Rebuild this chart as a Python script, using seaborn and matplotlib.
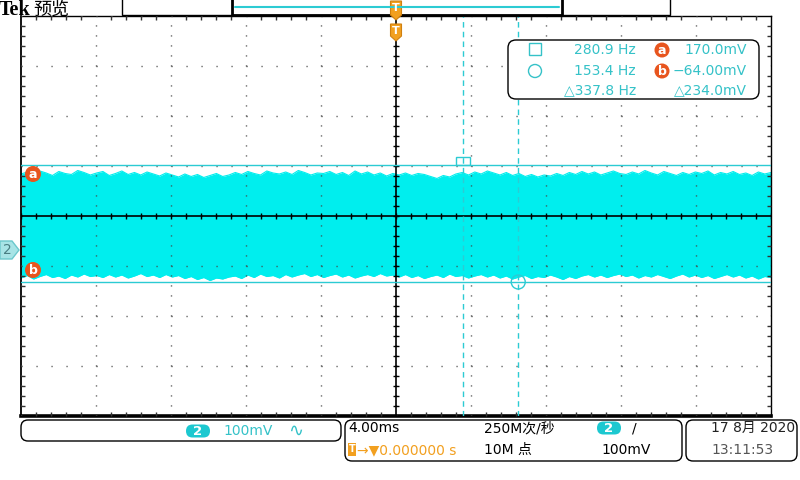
import numpy as np
import pandas as pd
import seaborn as sns
import matplotlib.pyplot as plt
from matplotlib.patches import FancyBboxPatch, Rectangle, Polygon, Circle

sns.set_style("white")
plt.rcParams['font.family'] = ['DejaVu Sans', 'Noto Sans CJK SC']

# envelope of the channel 2 trace (mV), -20..+20 ms
upper_mv = [152, 156, 150, 158, 154, 149, 157, 153, 151, 159, 155, 150,
            154, 157, 149, 153, 158, 151, 155, 150, 156, 152, 148, 154,
            150, 146, 152, 147, 151, 145, 149, 153, 147, 150, 155, 151,
            157, 153, 150, 158, 154, 152, 156, 151, 159, 155, 150, 154,
            153, 157, 151, 155, 149, 158, 152, 156, 150, 154, 148, 153,
            150, 154, 149, 153, 151, 147, 143, 149, 146, 152, 155, 150,
            156, 152, 158, 154, 150, 155, 149, 153, 147, 151, 146, 150,
            148, 153, 149, 155, 151, 157, 152, 156, 150, 154, 158, 153,
            151, 156, 152, 159, 154, 150, 157, 153, 149, 155, 151, 156,
            153, 158, 150, 155, 152, 157, 151, 154, 149, 156, 152, 155]
lower_mv = [-56, -51, -58, -53, -49, -55, -52, -57, -50, -54, -48, -53,
            -51, -55, -49, -54, -50, -56, -52, -47, -53, -50, -55, -49,
            -54, -51, -57, -53, -59, -55, -61, -56, -58, -54, -52, -57,
            -50, -55, -48, -53, -51, -56, -49, -54, -50, -47, -53, -49,
            -55, -51, -48, -54, -50, -56, -52, -49, -53, -47, -52, -50,
            -54, -49, -55, -51, -57, -53, -50, -55, -48, -53, -51, -56,
            -52, -49, -54, -50, -56, -52, -58, -54, -51, -57, -53, -55,
            -50, -54, -59, -53, -57, -52, -49, -54, -50, -55, -51, -48,
            -53, -50, -56, -51, -54, -49, -53, -57, -52, -48, -54, -50,
            -55, -51, -57, -53, -49, -54, -50, -56, -52, -58, -53, -55]

cursor_hz = [280.9, 153.4]
cursor_mv = [170.0, -64.00]
delta_hz = 337.8
delta_mv = 234.0

time_div_ms = 4.0
volt_div_mv = 100.0
center_mv = 68.0

CYAN = '#00EEEE'
CUR = '#2CCBD3'
TXT = '#35C2C8'
ORANGE = '#E8551E'
TRIG = '#F2A020'

cursor_ms = [1000.0 / f for f in cursor_hz]
df = pd.DataFrame({'t': np.linspace(-5 * time_div_ms, 5 * time_div_ms, len(upper_mv)),
                   'upper': upper_mv, 'lower': lower_mv})

fig = plt.figure(figsize=(8, 4.8), dpi=100)
ax = fig.add_axes([21 / 800, 64 / 480, 750 / 800, 400 / 480])

ax.fill_between(df['t'], df['lower'], df['upper'], color=CYAN, lw=0, zorder=1)
sns.lineplot(data=df, x='t', y='upper', color=CYAN, lw=0.8, ax=ax, zorder=1)
sns.lineplot(data=df, x='t', y='lower', color=CYAN, lw=0.8, ax=ax, zorder=1)

ax.set_xlim(-5 * time_div_ms, 5 * time_div_ms)
ax.set_ylim(center_mv - 4 * volt_div_mv, center_mv + 4 * volt_div_mv)
ax.set_xticks(np.arange(-5, 6) * time_div_ms)
ax.set_yticks(center_mv + np.arange(-4, 5) * volt_div_mv)
ax.set_xticks(np.arange(-25, 26) * time_div_ms / 5, minor=True)
ax.set_yticks(center_mv + np.arange(-20, 21) * volt_div_mv / 5, minor=True)
ax.set_xticklabels([])
ax.set_yticklabels([])
ax.set_xlabel('')
ax.set_ylabel('')
ax.tick_params(which='major', length=0)
ax.tick_params(which='minor', direction='in', length=3, width=1, color='#333333',
               top=True, right=True, bottom=True, left=True)
ax.set_axisbelow(False)
ax.grid(axis='x', which='major', color='#444444', lw=1, linestyle=(0, (0.8, 6.4)))
ax.grid(axis='y', which='major', color='#444444', lw=1, linestyle=(0, (0.8, 10.0)))
for side, w in [('left', 1.3), ('bottom', 2.6), ('top', 1.0), ('right', 1.0)]:
    ax.spines[side].set_color('black')
    ax.spines[side].set_linewidth(w)

# centre cross with its small ticks
ax.axvline(0, color='black', lw=1.2, zorder=3)
ax.axhline(center_mv, color='black', lw=1.2, zorder=3)
ax.plot(np.arange(-25, 26) * time_div_ms / 5, [center_mv] * 51, ls='none', marker='|',
        ms=5, mew=1, color='black', zorder=3)
ax.plot([0] * 41, center_mv + np.arange(-20, 21) * volt_div_mv / 5, ls='none', marker='_',
        ms=5, mew=1, color='black', zorder=3)

# cursors
for v in cursor_mv:
    ax.axhline(v, color=CUR, lw=1, zorder=4)
for t in cursor_ms:
    ax.axvline(t, color=CUR, lw=1, ls=(0, (4, 3)), zorder=4)

# overlay in pixel coordinates for the screen furniture
ov = fig.add_axes([0, 0, 1, 1], zorder=10)
ov.set_xlim(0, 800)
ov.set_ylim(480, 0)
ov.axis('off')
ov.patch.set_alpha(0)


def to_px(t, v):
    x, y = ax.transData.transform((t, v))
    return x, 480 - y


# cursor ornaments
sx, sy = to_px(cursor_ms[0], cursor_mv[0])
ov.add_patch(Rectangle((sx - 7, sy - 8), 14, 8, fill=False, ec=CUR, lw=1))
cx, cy = to_px(cursor_ms[1], cursor_mv[1])
ov.add_patch(Circle((cx, cy), 7, fill=False, ec=CUR, lw=1))


def badge(x, y, letter, r=8, size=9):
    ov.add_patch(Circle((x, y), r, color=ORANGE, lw=0))
    ov.text(x, y + 0.5, letter, color='white', fontsize=size, fontweight='bold',
            ha='center', va='center')


_, ay = to_px(0, cursor_mv[0])
_, by = to_px(0, cursor_mv[1])
badge(33, ay + 9, 'a')
badge(33, by - 12, 'b')

# channel 2 ground marker
_, gy = to_px(0, 0)
ov.add_patch(Polygon([(0, gy - 9), (12, gy - 9), (19, gy), (12, gy + 9), (0, gy + 9)],
                     closed=True, fc='#A8E4E6', ec='#6CC8CC', lw=1))
ov.text(7, gy + 0.5, '2', color='#4A7E82', fontsize=10, ha='center', va='center')

# title
ov.text(-1, 10, 'Tek', family='Liberation Serif', fontweight='bold', fontsize=14.5,
        ha='left', va='center', color='black')
ov.text(33, 10, '预览', family=['Noto Sans CJK SC'], fontsize=13,
        ha='left', va='center', color='black')

# record view bar
ov.add_patch(Rectangle((122, -2), 548, 17, fill=False, ec='black', lw=1))
ov.add_patch(Rectangle((232, -2), 330, 17, fill=False, ec='black', lw=2))
ov.plot([235, 559], [7, 7], color=CUR, lw=1.5)


def trig_tag(y0, h=16):
    ov.add_patch(Polygon([(390.5, y0), (401.5, y0), (401.5, y0 + h - 5), (396, y0 + h),
                          (390.5, y0 + h - 5)], closed=True, fc=TRIG, ec='#D08010', lw=0.8))
    ov.text(396, y0 + 7, 'T', color='white', fontsize=8, fontweight='bold',
            ha='center', va='center')


trig_tag(1, 19)
trig_tag(24, 17)

# measurement readout
ov.add_patch(FancyBboxPatch((508, 40), 251, 59, boxstyle='round,pad=0,rounding_size=8',
                            fc='white', ec='black', lw=1))
ov.add_patch(Rectangle((529, 43), 12, 12, fill=False, ec=TXT, lw=1))
ov.add_patch(Circle((535, 71), 6.5, fill=False, ec=TXT, lw=1))
ov.text(636, 50, f'{cursor_hz[0]:.1f} Hz', color=TXT, fontsize=10, ha='right', va='center')
ov.text(636, 71, f'{cursor_hz[1]:.1f} Hz', color=TXT, fontsize=10, ha='right', va='center')
ov.text(636, 90, f'△{delta_hz:.1f} Hz', color=TXT, fontsize=10, ha='right', va='center')
badge(662, 50, 'a', r=7.5)
badge(662, 71, 'b', r=7.5)
ov.text(747, 50, f'{cursor_mv[0]:.1f}mV', color=TXT, fontsize=10, ha='right', va='center')
ov.text(747, 71, f'−{abs(cursor_mv[1]):.2f}mV', color=TXT, fontsize=10, ha='right', va='center')
ov.text(747, 90, f'△{delta_mv:.1f}mV', color=TXT, fontsize=10, ha='right', va='center')

# bottom status boxes
for x0, w, h in [(21, 320, 21), (345, 337, 41), (686, 111, 41)]:
    ov.add_patch(FancyBboxPatch((x0, 420), w, h, boxstyle='round,pad=0,rounding_size=7',
                                fc='white', ec='black', lw=1))


def pill(x, y):
    ov.add_patch(FancyBboxPatch((x - 12, y - 6.5), 24, 13,
                                boxstyle='round,pad=0,rounding_size=6.5',
                                fc='#1CC8D0', ec='none'))
    ov.text(x, y + 0.5, '2', color='white', fontsize=9.5, fontweight='bold',
            ha='center', va='center')


pill(198, 431)
ov.text(248, 431, f'{volt_div_mv:.0f}mV', color=TXT, fontsize=10, ha='center', va='center')
ov.text(296, 431, '∿', color=TXT, fontsize=13, ha='center', va='center')

ov.text(348, 428, f'{time_div_ms:.2f}ms', color='black', fontsize=10, ha='left', va='center')
ov.add_patch(Rectangle((348, 443), 8, 13, fc=TRIG, ec='none'))
ov.text(352, 449.5, 'T', color='white', fontsize=7, fontweight='bold', ha='center', va='center')
ov.text(357, 450, '→▼0.000000 s', color=TRIG, fontsize=10, ha='left', va='center')
ov.text(484, 428, '250M次/秒', color='black', fontsize=10, ha='left', va='center')
ov.text(484, 450, '10M 点', color='black', fontsize=10, ha='left', va='center')
pill(609, 428)
ov.text(634, 428, '/', color='black', fontsize=10, ha='center', va='center')
ov.text(601, 450, f'{volt_div_mv:.0f}mV', color='black', fontsize=10, ha='left', va='center')

ov.text(711, 428, '17 8月 2020', color='#222222', fontsize=10, ha='left', va='center')
ov.text(711, 450, '13:11:53', color='#555555', fontsize=10, ha='left', va='center')

fig.savefig('out.png', dpi=100, facecolor='white')
